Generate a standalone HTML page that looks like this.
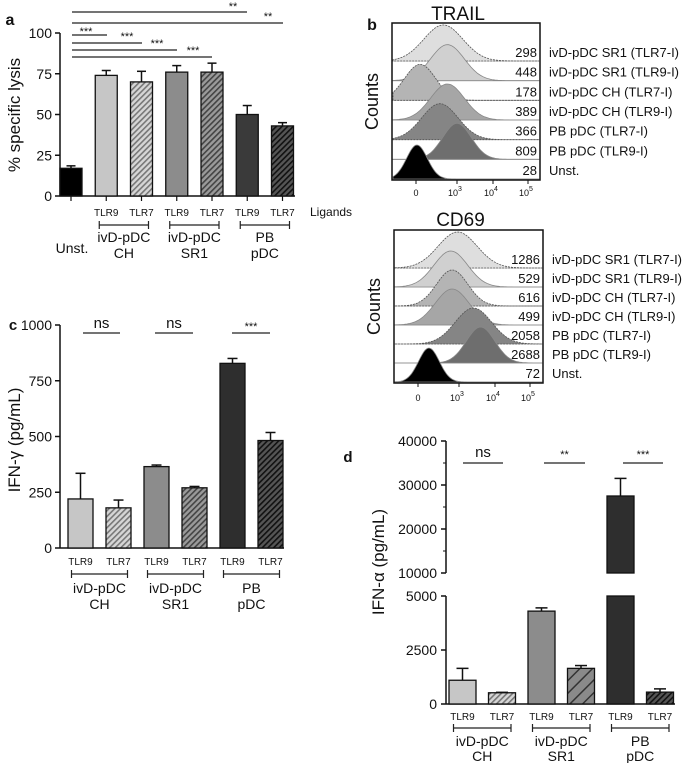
<!DOCTYPE html>
<html><head><meta charset="utf-8">
<style>
html,body{margin:0;padding:0;background:#fff;}
svg{display:block;font-family:"Liberation Sans",Arial,sans-serif;}
</style></head>
<body>
<svg id="fig" width="685" height="763" viewBox="0 0 685 763" xmlns="http://www.w3.org/2000/svg">
<defs>
<pattern id="hLight" width="4" height="4" patternUnits="userSpaceOnUse" patternTransform="rotate(45)"><rect width="4" height="4" fill="#d6d6d6"/><rect width="1.6" height="4" fill="#777"/></pattern>
<pattern id="hMid" width="4" height="4" patternUnits="userSpaceOnUse" patternTransform="rotate(45)"><rect width="4" height="4" fill="#9a9a9a"/><rect width="1.6" height="4" fill="#444"/></pattern>
<pattern id="hDark" width="4" height="4" patternUnits="userSpaceOnUse" patternTransform="rotate(45)"><rect width="4" height="4" fill="#555"/><rect width="1.6" height="4" fill="#111"/></pattern>
<pattern id="hMidWide" width="9" height="9" patternUnits="userSpaceOnUse" patternTransform="rotate(45)"><rect width="9" height="9" fill="#8a8a8a"/><rect width="1.5" height="9" fill="#333"/></pattern>
</defs>
<g id="root"></g>
</svg>
<script>
// ---------- data ----------
const aCategories = ["Unst.","CH TLR9","CH TLR7","SR1 TLR9","SR1 TLR7","PB TLR9","PB TLR7"];
const aValues = [17, 74, 70, 76, 76, 50, 43];
const aErrors = [1.5, 3, 6.5, 4, 5.5, 5.5, 2];
const aTicks = [0, 25, 50, 75, 100];
const cCategories = ["CH TLR9","CH TLR7","SR1 TLR9","SR1 TLR7","PB TLR9","PB TLR7"];
const cValues = [220, 180, 365, 270, 828, 482];
const cErrors = [115, 35, 7, 6, 22, 36];
const cTicks = [0, 250, 500, 750, 1000];
const dCategories = ["CH TLR9","CH TLR7","SR1 TLR9","SR1 TLR7","PB TLR9","PB TLR7"];
const dValues = [1100, 520, 4300, 1650, 27500, 550];
const dErrors = [550, 20, 150, 130, 4000, 150];
const dTicksLow = [0, 2500, 5000];
const dTicksHigh = [10000, 20000, 30000, 40000];
const histLabels = ["ivD-pDC SR1 (TLR7-I)","ivD-pDC SR1 (TLR9-I)","ivD-pDC CH (TLR7-I)","ivD-pDC CH (TLR9-I)","PB pDC (TLR7-I)","PB pDC (TLR9-I)","Unst."];
const trailMFI = [298, 448, 178, 389, 366, 809, 28];
const cd69MFI = [1286, 529, 616, 499, 2058, 2688, 72];
const trailPeaks = [2.0, 2.3, 0.3, 2.3, 1.75, 3.0, 0.07];
const cd69Peaks = [2.9, 2.4, 2.5, 2.5, 3.4, 3.6, 0.8];
const histWidths = [0.75, 0.65, 0.6, 0.65, 0.7, 0.55, 0.4];
const histFills = ["#dedede","#d0d0d0","#b4b4b4","#a6a6a6","#858585","#6e6e6e","#000"];

const NS="http://www.w3.org/2000/svg";
const root=document.getElementById('root');
function mk(tag,attrs,parent){const e=document.createElementNS(NS,tag);for(const k in attrs)e.setAttribute(k,attrs[k]);(parent||root).appendChild(e);return e;}
function txt(s,x,y,size,anchor,parent,extra){const e=mk('text',Object.assign({x:x,y:y,'font-size':size,'text-anchor':anchor||'middle',fill:'#111'},extra||{}),parent);e.textContent=s;return e;}
const fillsA=["#000","#c6c6c6","url(#hLight)","#8c8c8c","url(#hMid)","#3a3a3a","url(#hDark)"];
const fills6=["#c6c6c6","url(#hLight)","#8c8c8c","url(#hMid)","#2e2e2e","url(#hDark)"];
const fillsD=["#c6c6c6","url(#hLight)","#8c8c8c","url(#hMidWide)","#2e2e2e","url(#hDark)"];

function bar(g,cx,w,y0,y1,fill,name){const r=mk('rect',{x:cx-w/2,y:Math.min(y0,y1),width:w,height:Math.abs(y0-y1),fill:fill,stroke:'#111','stroke-width':1.3},g);

return r;}
function errbar(g,cx,yTop,yErr,w){mk('line',{x1:cx,x2:cx,y1:yTop,y2:yErr,stroke:'#111','stroke-width':1.5},g);mk('line',{x1:cx-w/2,x2:cx+w/2,y1:yErr,y2:yErr,stroke:'#111','stroke-width':1.5},g);}
function group(name){const g=mk('g',{});return g;}
function bracket(g,x1,x2,y){mk('line',{x1:x1,x2:x2,y1:y,y2:y,stroke:'#222','stroke-width':1.2},g);mk('line',{x1:x1,x2:x1,y1:y-4,y2:y+4,stroke:'#222','stroke-width':1.2},g);mk('line',{x1:x2,x2:x2,y1:y-4,y2:y+4,stroke:'#222','stroke-width':1.2},g);}
function sig(g,x1,x2,y,label,ly,lx){mk('line',{x1:x1,x2:x2,y1:y,y2:y,stroke:'#222','stroke-width':1.3},g);txt(label,lx!==undefined?lx:(x1+x2)/2,ly,label==='ns'?15:11,'middle',g);}

// ---------- panel a ----------
(function(){
 const g=group('panel-a-lysis-chart');
 const ya=v=>196-v*1.63, xa=i=>71+i*35.25;
 txt('a',10,25,16,'middle',g,{'font-weight':'bold'});
 mk('line',{x1:60,x2:60,y1:ya(100),y2:196,stroke:'#111','stroke-width':1.5},g);
 mk('line',{x1:60,x2:295,y1:196,y2:196,stroke:'#111','stroke-width':1.5},g);
 aTicks.forEach(t=>{mk('line',{x1:55,x2:60,y1:ya(t),y2:ya(t),stroke:'#111','stroke-width':1.5},g);txt(String(t),52,ya(t)+5,14,'end',g);});
 aCategories.forEach((c,i)=>{mk('line',{x1:xa(i),x2:xa(i),y1:196,y2:201,stroke:'#111','stroke-width':1.2},g);});
 const t=mk('text',{x:0,y:0,'font-size':17,'text-anchor':'middle',fill:'#111',transform:'translate(20,115) rotate(-90)'},g);t.textContent='% specific lysis';
 
 aValues.forEach((v,i)=>{errbar(g,xa(i),ya(v),ya(v+aErrors[i]),9);bar(g,xa(i),22,196,ya(v),fillsA[i],'bar-a-'+i);});
 aCategories.forEach((c,i)=>{if(i>0)txt(i%2?'TLR9':'TLR7',xa(i),216,10,'middle',g);});
 txt('Ligands',310,216,12,'start',g);
 txt('Unst.',72,253,14,'middle',g);
 [[1,'ivD-pDC','CH'],[3,'ivD-pDC','SR1'],[5,'PB','pDC']].forEach(([i,l1,l2])=>{bracket(g,xa(i)-7,xa(i+1)+7,225);txt(l1,(xa(i)+xa(i+1))/2,242,14,'middle',g);txt(l2,(xa(i)+xa(i+1))/2,258,14,'middle',g);});
 sig(g,72,247,12,'**',10,233);sig(g,72,283,23,'**',20,268);
 sig(g,72,107,35,'***',35,86);sig(g,72,142,43,'***',40,127);sig(g,72,177,50,'***',47,157);sig(g,72,212,57,'***',54,193);
})();

// ---------- panel c ----------
(function(){
 const g=group('panel-c-ifn-gamma-chart');
 const yc=v=>548-v*0.223, xc=i=>80.5+i*38;
 txt('c',13,330,15,'middle',g,{'font-weight':'bold'});
 mk('line',{x1:60,x2:60,y1:yc(1000),y2:548,stroke:'#111','stroke-width':1.5},g);
 mk('line',{x1:60,x2:284,y1:548,y2:548,stroke:'#111','stroke-width':1.5},g);
 cTicks.forEach(t=>{mk('line',{x1:55,x2:60,y1:yc(t),y2:yc(t),stroke:'#111','stroke-width':1.5},g);txt(String(t),52,yc(t)+5,14,'end',g);});
 const t=mk('text',{x:0,y:0,'font-size':17,'text-anchor':'middle',fill:'#111',transform:'translate(20,440) rotate(-90)'},g);t.textContent='IFN-γ (pg/mL)';
 
 cValues.forEach((v,i)=>{errbar(g,xc(i),yc(v),yc(v+cErrors[i]),10);bar(g,xc(i),25,548,yc(v),fills6[i],'bar-c-'+i);txt(i%2?'TLR7':'TLR9',xc(i),565,10,'middle',g);});
 [[0,'ivD-pDC','CH'],[2,'ivD-pDC','SR1'],[4,'PB','pDC']].forEach(([i,l1,l2])=>{bracket(g,xc(i)-9,xc(i+1)+9,574);txt(l1,(xc(i)+xc(i+1))/2,593,14,'middle',g);txt(l2,(xc(i)+xc(i+1))/2,609,14,'middle',g);});
 sig(g,83,120,333,'ns',328);sig(g,155,193,333,'ns',328);sig(g,232,270,333,'***',330);
})();

// ---------- panel d ----------
(function(){
 const g=group('panel-d-ifn-alpha-chart');
 const yd=v=>v<=5000?704-v*108/5000:573-(v-10000)*0.0044, xd=i=>462.5+i*39.5;
 txt('d',348,462,15,'middle',g,{'font-weight':'bold'});
 mk('line',{x1:446,x2:446,y1:yd(40000),y2:yd(10000),stroke:'#111','stroke-width':1.5},g);
 mk('line',{x1:446,x2:446,y1:yd(5000),y2:704,stroke:'#111','stroke-width':1.5},g);
 mk('line',{x1:446,x2:675,y1:704,y2:704,stroke:'#111','stroke-width':1.5},g);
 dTicksHigh.forEach(t=>{mk('line',{x1:441,x2:446,y1:yd(t),y2:yd(t),stroke:'#111','stroke-width':1.5},g);txt(String(t),437,yd(t)+5,14,'end',g);
   mk('line',{x1:443,x2:446,y1:yd(t-5000),y2:yd(t-5000),stroke:'#111','stroke-width':1},g);});
 dTicksLow.forEach(t=>{mk('line',{x1:441,x2:446,y1:yd(t),y2:yd(t),stroke:'#111','stroke-width':1.5},g);txt(String(t),437,yd(t)+5,14,'end',g);});
 const t=mk('text',{x:0,y:0,'font-size':17,'text-anchor':'middle',fill:'#111',transform:'translate(384,562) rotate(-90)'},g);t.textContent='IFN-α (pg/mL)';
 
 dValues.forEach((v,i)=>{
  if(v>5000){errbar(g,xd(i),yd(v),yd(v+dErrors[i]),12);bar(g,xd(i),27,yd(10000),yd(v),fillsD[i],'bar-d-upper-'+i);bar(g,xd(i),27,704,yd(5000),fillsD[i],'bar-d-lower-'+i);}
  else{errbar(g,xd(i),yd(v),yd(v+dErrors[i]),12);bar(g,xd(i),27,704,yd(v),fillsD[i],'bar-d-'+i);}
  txt(i%2?'TLR7':'TLR9',xd(i),720,10,'middle',g);});
 [[0,'ivD-pDC','CH'],[2,'ivD-pDC','SR1'],[4,'PB','pDC']].forEach(([i,l1,l2])=>{bracket(g,xd(i)-9,xd(i+1)+9,728);txt(l1,(xd(i)+xd(i+1))/2,746,14,'middle',g);txt(l2,(xd(i)+xd(i+1))/2,761,14,'middle',g);});
 sig(g,463,503,463,'ns',457);sig(g,544,585,463,'**',458);sig(g,623,663,463,'***',458);
})();

// ---------- panel b histograms ----------
function hist(name,title,titleY,box,peaks,mfi,tickY){
 const g=group(name);
 const [L,T,R,B]=box;
 txt(title,(L+R)/2-8,titleY,19,'middle',g);
 const pxT=[0,3,4,5], pxX=[L+24,L+65,L+101,L+136];
 const xs=d=>{for(let k=0;k<3;k++){if(d<=pxT[k+1])return pxX[k]+(d-pxT[k])/(pxT[k+1]-pxT[k])*(pxX[k+1]-pxX[k]);}return pxX[3];};
 const step=(B-1-(T+38))/6;
 peaks.forEach((p,i)=>{
  const base=T+38+i*step, cx=xs(p), sig=histWidths[i]*26, h=i==6?34:36;
  let d='M'+(L+1)+','+base;
  for(let x=L+1;x<=R-1;x+=1.5){const y=base-h*Math.exp(-Math.pow((x-cx)/sig,2)/2);d+=' L'+x.toFixed(1)+','+y.toFixed(1);}
  d+=' L'+(R-1)+','+base+' Z';
  mk('line',{x1:L,x2:R,y1:base,y2:base,stroke:'#bbb','stroke-width':1},g);
  const pth=mk('path',{d:d,fill:histFills[i],stroke:i%2===0&&i<6?'#555':'#888','stroke-width':0.8,'stroke-dasharray':i%2===0&&i<6?'2,1':'none'},g);
  
  
  txt(String(mfi[i]),R-3,base-4,13,'end',g);
  txt(histLabels[i],R+9,base-4,13,'start',g);
 });
 mk('rect',{x:L,y:T,width:R-L,height:B-T,fill:'none',stroke:'#111','stroke-width':1.5},g);
 for(let k=0;k<4;k++){mk('line',{x1:pxX[k],x2:pxX[k],y1:B,y2:B+4,stroke:'#111','stroke-width':1},g);}
 txt('0',pxX[0],tickY,9,'middle',g);
 ['3','4','5'].forEach((e,k)=>{const t=txt('10',pxX[k+1]-2,tickY,9,'middle',g);const s=mk('tspan',{dy:-5,'font-size':7},t);s.textContent=e;});
 const c=mk('text',{x:0,y:0,'font-size':18,'text-anchor':'middle',fill:'#111',transform:'translate('+(L-14)+','+((T+B)/2)+') rotate(-90)'},g);c.textContent='Counts';
 
}
txt('b',372,30,16,'middle',root,{'font-weight':'bold'});
hist('panel-b-trail-histogram','TRAIL',20,[392,23,540,180],trailPeaks,trailMFI,196);
hist('panel-b-cd69-histogram','CD69',226,[394,230,543,383],cd69Peaks,cd69MFI,401);
</script>
</body></html>
